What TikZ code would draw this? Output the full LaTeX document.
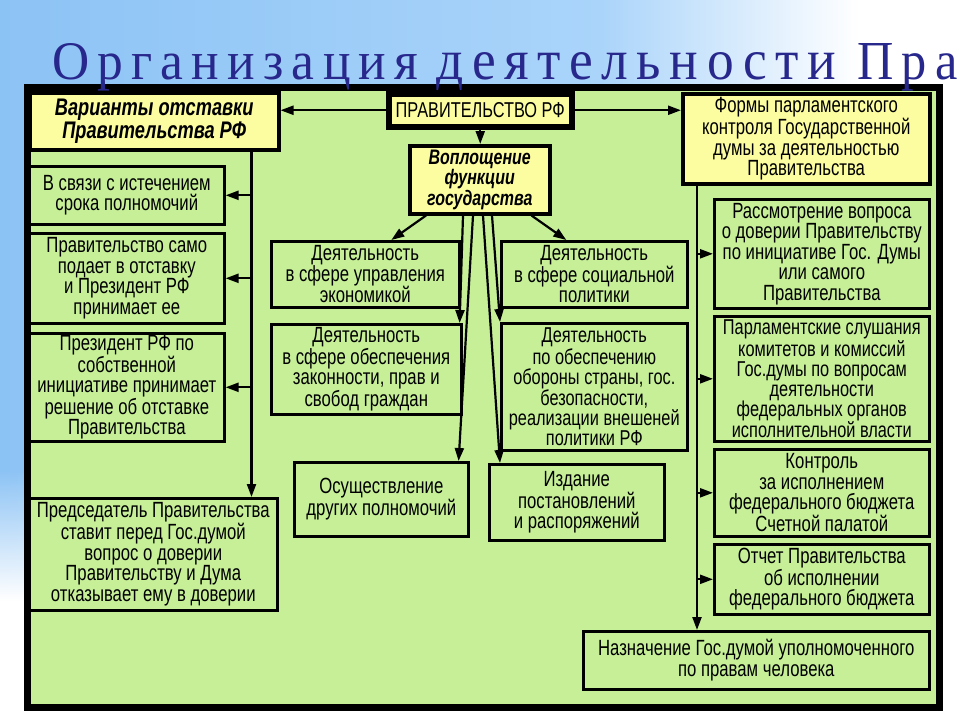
\documentclass[tikz,border=0pt]{standalone}
\usepackage{fontspec}
\setmainfont[FakeStretch=0.76]{Liberation Sans}
\newfontfamily\titlefont[LetterSpace=16]{Liberation Serif}
\usetikzlibrary{arrows.meta,calc,fadings}
\definecolor{boxgreen}{RGB}{198,239,152}
\definecolor{boxyellow}{RGB}{252,252,160}
\definecolor{titleblue}{RGB}{40,40,140}
\definecolor{skyA}{RGB}{140,195,245}
\definecolor{skyB}{RGB}{170,212,250}
\newcommand\boxfont{\fontsize{22}{20.5}\selectfont}
\newcommand\headfont{\fontsize{24}{20}\selectfont\bfseries\itshape}
\tikzset{
  box/.style={draw=black, line width=2.6pt, fill=boxgreen, align=center, inner sep=1pt,
              anchor=north west, font=\boxfont},
  ybox/.style={box, fill=boxyellow, line width=3.5pt},
  arr/.style={line width=2.2pt, -{Triangle[length=13pt,width=9pt]}},
}
\begin{document}
\begin{tikzpicture}[x=1pt,y=-1pt]
\useasboundingbox (0,0) rectangle (960,720);
% background
\fill[white] (0,0) rectangle (960,720);
\shade[left color=skyA, right color=skyB] (0,0) rectangle (600,600);
\shade[left color=skyB, right color=white] (600,0) rectangle (860,600);
\fill[white, path fading=north] (0,470) rectangle (960,600.5);
% frame
\node[draw=black, line width=7pt, fill=boxgreen, minimum width=912.5pt, minimum height=620pt,
      anchor=north west, inner sep=0pt] (frame) at (23.5,83.5) {};
% title
\node[anchor=base west, inner sep=0pt, text=titleblue] (title) at (52,79)
  {\resizebox{366pt}{36pt}{\titlefont Организация}\hspace{18pt}\resizebox{400pt}{27pt}{\titlefont деятельности}\hspace{21pt}\resizebox{100pt}{36pt}{\titlefont Пра}};
% top row
\node[ybox, minimum width=249pt, minimum height=57pt, font=\headfont] (var) at (28,91)
  {Варианты отставки\\Правительства РФ};
\node[ybox, line width=5.5pt, minimum width=183pt, minimum height=33pt,
      font={\fontsize{21.5}{21.5}\selectfont}] (gov) at (386,91) {ПРАВИТЕЛЬСТВО РФ};
\node[ybox, minimum width=247pt, minimum height=90pt] (forms) at (681,92)
  {Формы парламентского\\контроля Государственной\\думы за деятельностью\\Правительства};
\node[ybox, minimum width=140pt, minimum height=68pt,
      font={\fontsize{21}{18.5}\selectfont\bfseries\itshape}] (vop) at (408,144)
  {Воплощение\\функции\\государства};
% left column
\node[box, minimum width=195pt, minimum height=58pt] (L1) at (28,165)
  {В связи с истечением\\срока полномочий};
\node[box, minimum width=195pt, minimum height=90pt] (L2) at (28,232)
  {Правительство само\\подает в отставку\\и Президент РФ\\принимает ее};
\node[box, minimum width=195pt, minimum height=108pt] (L3) at (28,332)
  {Президент РФ по\\собственной\\инициативе принимает\\решение об отставке\\Правительства};
\node[box, minimum width=248pt, minimum height=112pt] (L4) at (28,497)
  {Председатель Правительства\\ставит перед Гос.думой\\вопрос о доверии\\Правительству и Дума\\отказывает ему в доверии};
% middle
\node[box, minimum width=188pt, minimum height=66pt] (M1) at (270,240)
  {Деятельность\\в сфере управления\\экономикой};
\node[box, minimum width=190pt, minimum height=90pt] (M2) at (270,323)
  {Деятельность\\в сфере обеспечения\\законности, прав и\\свобод граждан};
\node[box, minimum width=186pt, minimum height=66pt] (M3) at (500,240)
  {Деятельность\\в сфере социальной\\политики};
\node[box, minimum width=186pt, minimum height=127pt, font={\fontsize{21.5}{20}\selectfont}] (M4) at (500,322)
  {Деятельность\\по обеспечению\\обороны страны, гос.\\безопасности,\\реализации внешеней\\политики РФ};
\node[box, minimum width=174pt, minimum height=74pt] (M5) at (293,461)
  {Осуществление\\других полномочий};
\node[box, minimum width=175pt, minimum height=76pt] (M6) at (488,463)
  {Издание\\постановлений\\и распоряжений};
% right column
\node[box, minimum width=215pt, minimum height=109pt] (R1) at (713,198)
  {Рассмотрение вопроса\\о доверии Правительству\\по инициативе Гос. Думы\\или самого\\Правительства};
\node[box, minimum width=215pt, minimum height=125pt, font={\fontsize{21.5}{20}\selectfont}] (R2) at (713,315)
  {Парламентские слушания\\комитетов и комиссий\\Гос.думы по вопросам\\деятельности\\федеральных органов\\исполнительной власти};
\node[box, minimum width=215pt, minimum height=87pt] (R3) at (713,448)
  {Контроль\\за исполнением\\федерального бюджета\\Счетной палатой};
\node[box, minimum width=215pt, minimum height=70pt] (R4) at (713,543)
  {Отчет Правительства\\об исполнении\\федерального бюджета};
\node[box, minimum width=346pt, minimum height=58pt] (R5) at (582,630)
  {Назначение Гос.думой уполномоченного\\по правам человека};
% connectors top
\draw[arr] (gov.west) -- (gov.west -| var.east);
\draw[arr] (gov.east) -- (gov.east -| forms.west);
\draw[arr] (gov.south) -- (gov.south |- vop.north);
% fan from vop
\draw[arr] ($(vop.south west)+(18,0)$) -- ($(M1.north)+(26,0)$);
\draw[arr] ($(vop.south east)+(-20,0)$) -- ($(M3.north)+(-28,0)$);
\draw[arr] ($(vop.south west)+(55,0)$) -- ($(M2.north east)+(-3,0)$);
\draw[arr] ($(vop.south west)+(65,0)$) -- ($(M5.north east)+(-11,0)$);
\draw[arr] ($(vop.south west)+(75,0)$) -- ($(M6.north west)+(12,0)$);
\draw[arr] ($(vop.south west)+(84,0)$) -- (M4.north west);
% left spine
\coordinate (ls) at ($(var.south east)+(-29,0)$);
\draw[arr] (ls) -- (ls |- L4.north);
\draw[arr] (ls |- L1.east) -- (L1.east);
\draw[arr] (ls |- L2.east) -- (L2.east);
\draw[arr] (ls |- L3.east) -- (L3.east);
% right spine
\coordinate (rs) at ($(forms.south west)+(16,0)$);
\draw[arr] (rs) -- (rs |- R5.north);
\draw[arr] (rs |- R1.west) -- (R1.west);
\draw[arr] (rs |- R2.west) -- (R2.west);
\draw[arr] (rs |- R3.west) -- (R3.west);
\draw[arr] (rs |- R4.west) -- (R4.west);
\end{tikzpicture}
\end{document}
